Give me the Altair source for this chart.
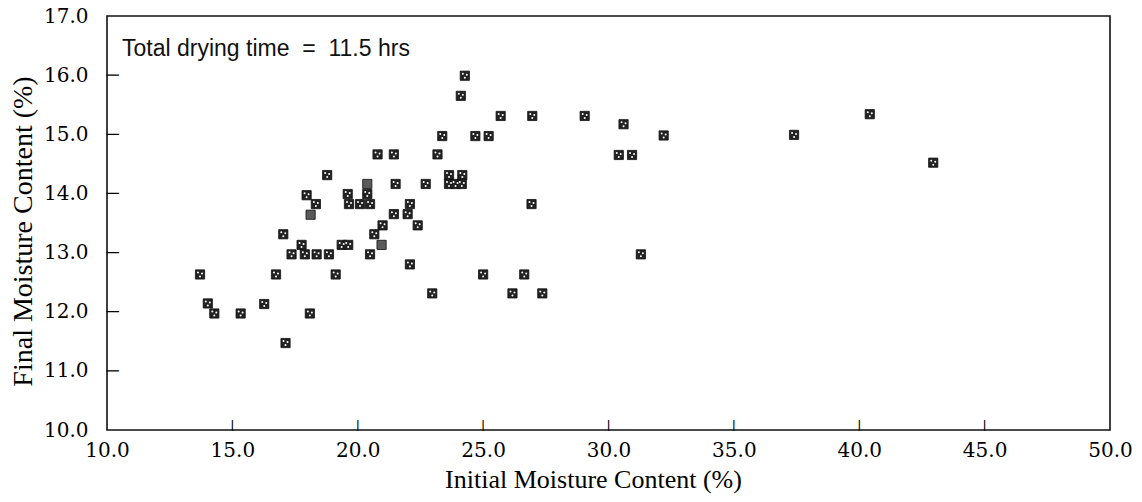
import altair as alt
import pandas as pd

initial_mc = [13.71, 14.02, 14.28, 15.33, 16.27, 16.74, 17.03, 17.12, 17.36, 17.76,
              17.89, 17.96, 18.09, 18.12, 18.33, 18.36, 18.78, 18.85, 19.12, 19.36,
              19.62, 19.60, 19.65, 20.09, 20.38, 20.38, 20.49, 20.49, 20.66, 20.79,
              20.95, 20.99, 21.44, 21.44, 21.51, 21.99, 22.08, 22.08, 22.39, 22.71,
              22.97, 23.18, 23.37, 23.64, 24.17, 23.64, 23.90, 24.15, 24.11, 24.27,
              24.69, 25.00, 25.22, 25.70, 26.17, 26.64, 26.93, 26.96, 27.36, 29.05,
              30.41, 30.60, 30.94, 31.29, 32.20, 37.40, 40.42, 42.95]
final_mc = [12.63, 12.14, 11.97, 11.97, 12.13, 12.63, 13.31, 11.47, 12.97, 13.13,
            12.97, 13.97, 11.97, 13.64, 13.82, 12.97, 14.31, 12.97, 12.63, 13.13,
            13.13, 13.99, 13.82, 13.82, 13.99, 14.16, 13.82, 12.97, 13.31, 14.66,
            13.13, 13.46, 14.66, 13.65, 14.16, 13.65, 13.82, 12.80, 13.46, 14.16,
            12.31, 14.66, 14.97, 14.31, 14.31, 14.16, 14.16, 14.16, 15.65, 15.99,
            14.97, 12.63, 14.97, 15.31, 12.31, 12.63, 13.82, 15.31, 12.31, 15.31,
            14.65, 15.17, 14.65, 12.97, 14.98, 14.99, 15.34, 14.52]
solid_points = [13, 25, 30]  # indices of plain (no pattern) markers

x_ticks = [15.0, 20.0, 25.0, 30.0, 35.0, 40.0, 45.0]
y_ticks = [11.0, 12.0, 13.0, 14.0, 15.0, 16.0]
x_labels = [10, 15, 20, 25, 30, 35, 40, 45, 50]
y_labels = [10, 11, 12, 13, 14, 15, 16, 17]
note = "Total drying time \u00a0=\u00a0 11.5 hrs"

# one table: data points plus tick anchors on the frame edges
rows = []
for i, (a, b) in enumerate(zip(initial_mc, final_mc)):
    rows.append({"x": a, "y": b, "kind": "solid" if i in solid_points else "pattern"})
for t in x_ticks:
    rows.append({"x": t, "y": float(y_labels[0]), "kind": "xtick"})
for t in y_ticks:
    rows.append({"x": float(x_labels[0]), "y": t, "kind": "ytick"})
df = pd.DataFrame(rows)

W, H = 1003, 414
xs = alt.Scale(domain=[10, 50], nice=False, zero=False)
ys = alt.Scale(domain=[10, 17], nice=False, zero=False)

lab_font = "DejaVu Serif"
tit_font = "Liberation Serif"

x_enc = alt.X("x:Q", scale=xs, axis=alt.Axis(
    title="Initial Moisture Content (%)", values=x_labels, format=".1f",
    grid=False, domain=False, ticks=False,
    labelFont=lab_font, labelFontSize=20,
    labelColor="#000", labelPadding=10, titleFont=tit_font, titleFontSize=26,
    titleFontWeight="normal", titleColor="#000", titlePadding=6, titleX=486,
    labelFlush=False, labelOverlap=False))
y_enc = alt.Y("y:Q", scale=ys, axis=alt.Axis(
    title="Final Moisture Content (%)", values=y_labels, format=".1f",
    grid=False, domain=False, ticks=False,
    labelFont=lab_font, labelFontSize=20,
    labelColor="#000", labelPadding=19, titleFont=tit_font, titleFontSize=28,
    titleFontWeight="normal", titleColor="#000", titlePadding=6, titleY=215,
    labelFlush=False, labelOverlap=False))

base = alt.Chart(df)
xf = alt.X("x:Q", scale=xs)
yf = alt.Y("y:Q", scale=ys)

squares = base.transform_filter(
    "datum.kind == 'pattern' || datum.kind == 'solid'"
).mark_square(size=85, opacity=1, stroke="#111", strokeWidth=0.8).encode(
    x=x_enc, y=y_enc,
    color=alt.Color("kind:N", scale=alt.Scale(domain=["pattern", "solid"], range=["#222222", "#5a5a5a"]), legend=None),
)

pattern = base.transform_filter("datum.kind == 'pattern'")
dot1 = pattern.mark_circle(size=4, color="white", opacity=1, xOffset=-2, yOffset=-2).encode(x=xf, y=yf)
dot2 = pattern.mark_circle(size=4, color="white", opacity=1, xOffset=2, yOffset=-1).encode(x=xf, y=yf)
dot3 = pattern.mark_circle(size=4, color="white", opacity=1, xOffset=0, yOffset=2).encode(x=xf, y=yf)

# inward tick marks as glyphs anchored on the frame edges
xt = base.transform_filter("datum.kind == 'xtick'").mark_text(
    text="|", font="DejaVu Sans", fontSize=10, fontWeight="bold", color="#000",
    align="center", baseline="middle", yOffset=-5
).encode(x=xf, y=yf)
yt = base.transform_filter("datum.kind == 'ytick'").mark_text(
    text="|", font="DejaVu Sans", fontSize=13, fontWeight="bold", color="#000",
    align="center", baseline="middle", angle=90, xOffset=6
).encode(x=xf, y=yf)

txt = alt.Chart(pd.DataFrame({"nx": [10.6], "ny": [16.45], "nt": [note]})).mark_text(
    align="left", baseline="middle", font="Liberation Sans", fontSize=23, color="#111"
).encode(x=alt.X("nx:Q", scale=xs), y=alt.Y("ny:Q", scale=ys), text="nt:N")

chart = alt.layer(squares, dot1, dot2, dot3, xt, yt, txt).properties(
    width=W, height=H,
    background="white",
    autosize=alt.AutoSizeParams(type="none"),
    padding={"left": 107, "top": 16, "right": 32, "bottom": 72},
).configure_view(stroke="#111", strokeWidth=1.6)

chart.save("out.html", embed_options={"renderer": "svg", "actions": False})
